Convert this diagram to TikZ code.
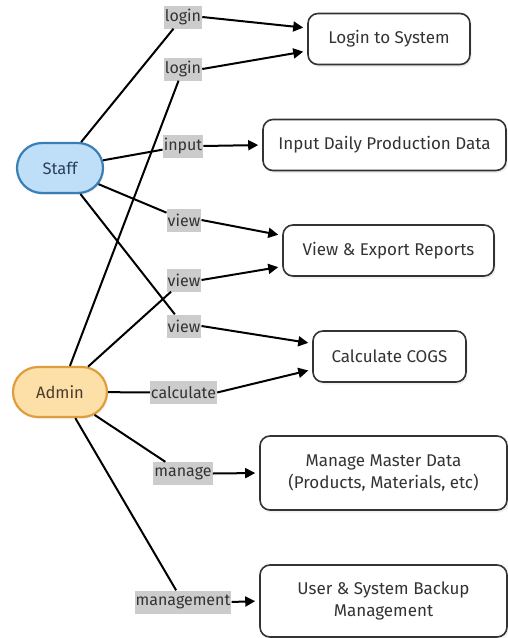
\documentclass[tikz,border=0pt]{standalone}
\usepackage{fontspec}
\setmainfont{Fira Sans}
\usetikzlibrary{arrows.meta,shapes.misc,shadows}
\definecolor{txt}{HTML}{333333}
\definecolor{staffFill}{HTML}{BFDFF8}
\definecolor{staffLine}{HTML}{3A7FB3}
\definecolor{staffTxt}{HTML}{2C3E58}
\definecolor{adminFill}{HTML}{FDDFA8}
\definecolor{adminLine}{HTML}{DE9E3E}
\definecolor{adminTxt}{HTML}{4A3B2C}
\definecolor{lblFill}{HTML}{CCCCCC}
\tikzset{
  actor/.style={rounded rectangle, line width=2.2pt, minimum height=50pt, inner sep=0pt,
    font=\fontsize{16.5}{19}\selectfont, drop shadow={opacity=0.12, shadow xshift=1pt, shadow yshift=-2pt}},
  usecase/.style={draw=txt, rounded corners=10pt, line width=1.6pt, fill=white, text=txt,
    minimum height=51pt, inner sep=0pt, align=center,
    font=\fontsize{17}{22}\selectfont, drop shadow={opacity=0.12, shadow xshift=1.5pt, shadow yshift=-2.5pt}},
  lbl/.style={fill=lblFill, text=txt, inner xsep=1pt, inner ysep=0pt, minimum height=23pt,
    font=\fontsize{16}{18}\selectfont},
  conn/.style={line width=2pt, black},
  arr/.style={conn, -{Triangle[length=10pt,width=10pt]}, shorten >=4pt},
}
\begin{document}
\begin{tikzpicture}[x=1pt,y=-1pt]
\useasboundingbox[fill=white] (0,0) rectangle (508,638);
% actors
\node[actor, draw=staffLine, fill=staffFill, text=staffTxt, minimum width=86pt] (staff) at (60,168) {Staff};
\node[actor, draw=adminLine, fill=adminFill, text=adminTxt, minimum width=94pt] (admin) at (60,392) {Admin};
% use cases
\node[usecase, minimum width=162pt] (login) at (389,39) {Login to System};
\node[usecase, minimum width=243pt] (input) at (384.5,145) {Input Daily Production Data};
\node[usecase, minimum width=211pt] (view) at (388.5,250.5) {View \& Export Reports};
\node[usecase, minimum width=153pt] (cogs) at (389.5,356.5) {Calculate COGS};
\node[usecase, minimum width=247pt, minimum height=74pt] (manage) at (383.5,473) {Manage Master Data\\(Products, Materials, etc)};
\node[usecase, minimum width=247pt, minimum height=72pt] (backup) at (383.5,601) {User \& System Backup\\Management};
% labels
\node[lbl] (l1) at (183,17) {login};
\node[lbl] (l2) at (183,69) {login};
\node[lbl] (l3) at (183,146) {input};
\node[lbl] (l4) at (184,220) {view};
\node[lbl] (l5) at (184,280) {view};
\node[lbl] (l6) at (184,326) {view};
\node[lbl] (l7) at (183.5,392.5) {calculate};
\node[lbl] (l8) at (183,473.5) {manage};
\node[lbl] (l9) at (183,602) {management};
% connectors
\draw[conn] (staff) -- (l1);
\draw[arr] (l1.east) -- ([yshift=11pt]login.west);
\draw[conn] (admin) -- (l2);
\draw[arr] (l2.east) -- ([yshift=-12pt]login.west);
\draw[conn] (staff) -- (l3);
\draw[arr] (l3.east) -- (input.west);
\draw[conn] (staff) -- (l4);
\draw[arr] (l4.east) -- ([yshift=15pt]view.west);
\draw[conn] (admin) -- (l5);
\draw[arr] (l5.east) -- ([yshift=-16pt]view.west);
\draw[conn] (staff) -- (l6);
\draw[arr] (l6.east) -- ([yshift=13pt]cogs.west);
\draw[conn] (admin) -- (l7);
\draw[arr] (l7.east) -- ([yshift=-13pt]cogs.west);
\draw[conn] (admin) -- (l8);
\draw[arr] (l8.east) -- (manage.west);
\draw[conn] (admin) -- (l9);
\draw[arr] (l9.east) -- (backup.west);
\end{tikzpicture}
\end{document}
